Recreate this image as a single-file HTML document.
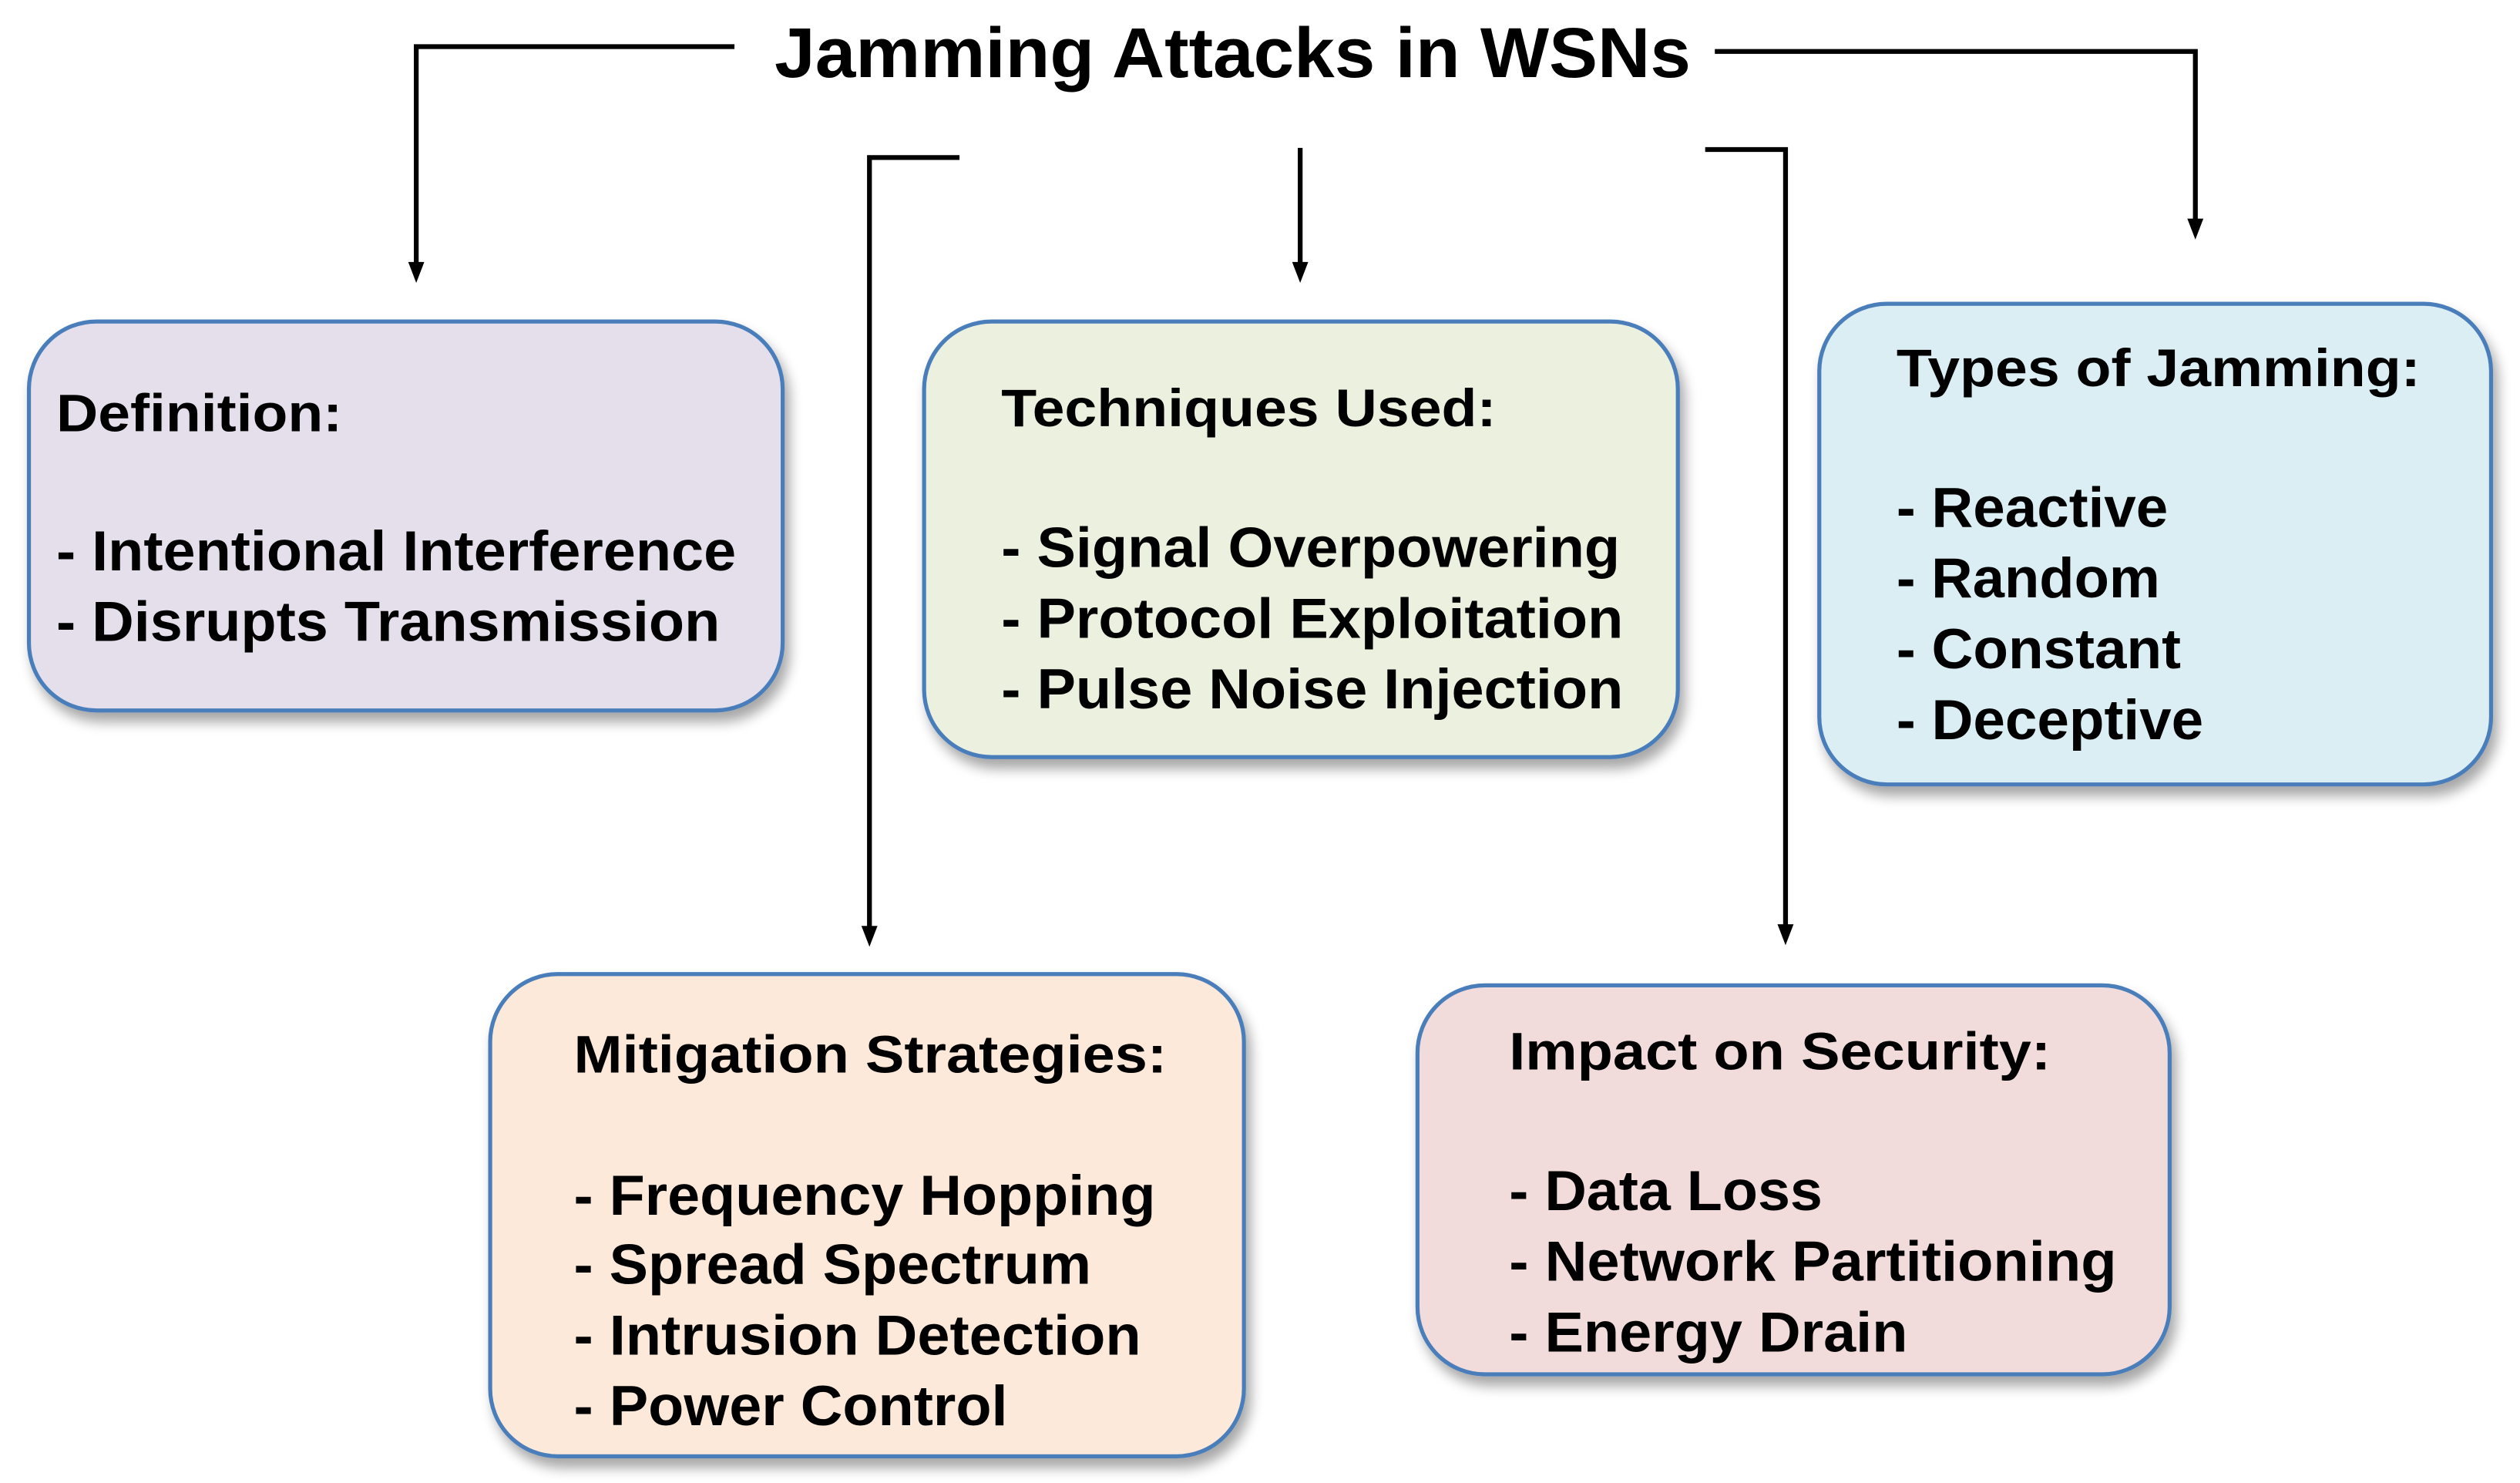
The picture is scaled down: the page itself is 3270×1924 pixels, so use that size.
<!DOCTYPE html>
<html><head><meta charset="utf-8"><style>
html,body{margin:0;padding:0;background:#fff;}
svg{display:block;}
text{font-family:"Liberation Sans",Arial,sans-serif;font-weight:bold;fill:#000;dominant-baseline:central;}
</style></head><body>
<svg width="3270" height="1924" viewBox="0 0 1568 922.6" preserveAspectRatio="none" xmlns="http://www.w3.org/2000/svg">
<defs>
<filter id="sh" x="-10%" y="-10%" width="125%" height="130%">
<feGaussianBlur in="SourceAlpha" stdDeviation="4"/>
<feOffset dx="3" dy="6"/>
<feComponentTransfer><feFuncA type="linear" slope="0.35"/></feComponentTransfer>
<feMerge><feMergeNode/><feMergeNode in="SourceGraphic"/></feMerge>
</filter>
</defs>
<g stroke="#000" stroke-width="3" fill="none">
<path d="M457,29 H259 V164"/>
<path d="M1067,32 H1366 V137"/>
<path d="M597,98 H541 V577"/>
<path d="M809,92 V164"/>
<path d="M1061,93 H1111 V576"/>
</g>
<g fill="#000">
<path d="M254,163 L264,163 L259,176 z"/>
<path d="M1361,136 L1371,136 L1366,149 z"/>
<path d="M536,576 L546,576 L541,589 z"/>
<path d="M804,163 L814,163 L809,176 z"/>
<path d="M1106,575 L1116,575 L1111,588 z"/>
</g>
<g stroke="#4a7ebb" stroke-width="2.5" filter="url(#sh)">
<rect x="18" y="200" width="469" height="242" rx="42" fill="#e5dfec"/>
<rect x="575" y="200" width="469" height="271" rx="42" fill="#ebf1de"/>
<rect x="1132" y="189" width="418" height="299" rx="42" fill="#dbeef4"/>
<rect x="305" y="606" width="469" height="300" rx="42" fill="#fde9d9"/>
<rect x="882" y="613" width="468" height="242" rx="42" fill="#f2dcdb"/>
</g>
<text x="482" y="33" font-size="44" textLength="570" lengthAdjust="spacingAndGlyphs">Jamming Attacks in WSNs</text>

<text x="35" y="257" font-size="33" textLength="178" lengthAdjust="spacingAndGlyphs">Definition:</text>
<text x="35" y="343" font-size="35" textLength="423" lengthAdjust="spacingAndGlyphs">- Intentional Interference</text>
<text x="35" y="387" font-size="35" textLength="413" lengthAdjust="spacingAndGlyphs">- Disrupts Transmission</text>

<text x="623" y="254" font-size="33" textLength="308" lengthAdjust="spacingAndGlyphs">Techniques Used:</text>
<text x="623" y="341" font-size="35" textLength="385" lengthAdjust="spacingAndGlyphs">- Signal Overpowering</text>
<text x="623" y="385" font-size="35" textLength="387" lengthAdjust="spacingAndGlyphs">- Protocol Exploitation</text>
<text x="623" y="429" font-size="35" textLength="387" lengthAdjust="spacingAndGlyphs">- Pulse Noise Injection</text>

<text x="1180" y="229" font-size="33" textLength="326" lengthAdjust="spacingAndGlyphs">Types of Jamming:</text>
<text x="1180" y="316" font-size="35" textLength="169" lengthAdjust="spacingAndGlyphs">- Reactive</text>
<text x="1180" y="360" font-size="35" textLength="164" lengthAdjust="spacingAndGlyphs">- Random</text>
<text x="1180" y="404" font-size="35" textLength="177" lengthAdjust="spacingAndGlyphs">- Constant</text>
<text x="1180" y="448" font-size="35" textLength="191" lengthAdjust="spacingAndGlyphs">- Deceptive</text>

<text x="357" y="656" font-size="33" textLength="369" lengthAdjust="spacingAndGlyphs">Mitigation Strategies:</text>
<text x="357" y="744" font-size="35" textLength="362" lengthAdjust="spacingAndGlyphs">- Frequency Hopping</text>
<text x="357" y="787" font-size="35" textLength="322" lengthAdjust="spacingAndGlyphs">- Spread Spectrum</text>
<text x="357" y="831" font-size="35" textLength="353" lengthAdjust="spacingAndGlyphs">- Intrusion Detection</text>
<text x="357" y="875" font-size="35" textLength="270" lengthAdjust="spacingAndGlyphs">- Power Control</text>

<text x="939" y="654" font-size="33" textLength="337" lengthAdjust="spacingAndGlyphs">Impact on Security:</text>
<text x="939" y="741" font-size="35" textLength="195" lengthAdjust="spacingAndGlyphs">- Data Loss</text>
<text x="939" y="785" font-size="35" textLength="378" lengthAdjust="spacingAndGlyphs">- Network Partitioning</text>
<text x="939" y="829" font-size="35" textLength="248" lengthAdjust="spacingAndGlyphs">- Energy Drain</text>
</svg>
</body></html>
